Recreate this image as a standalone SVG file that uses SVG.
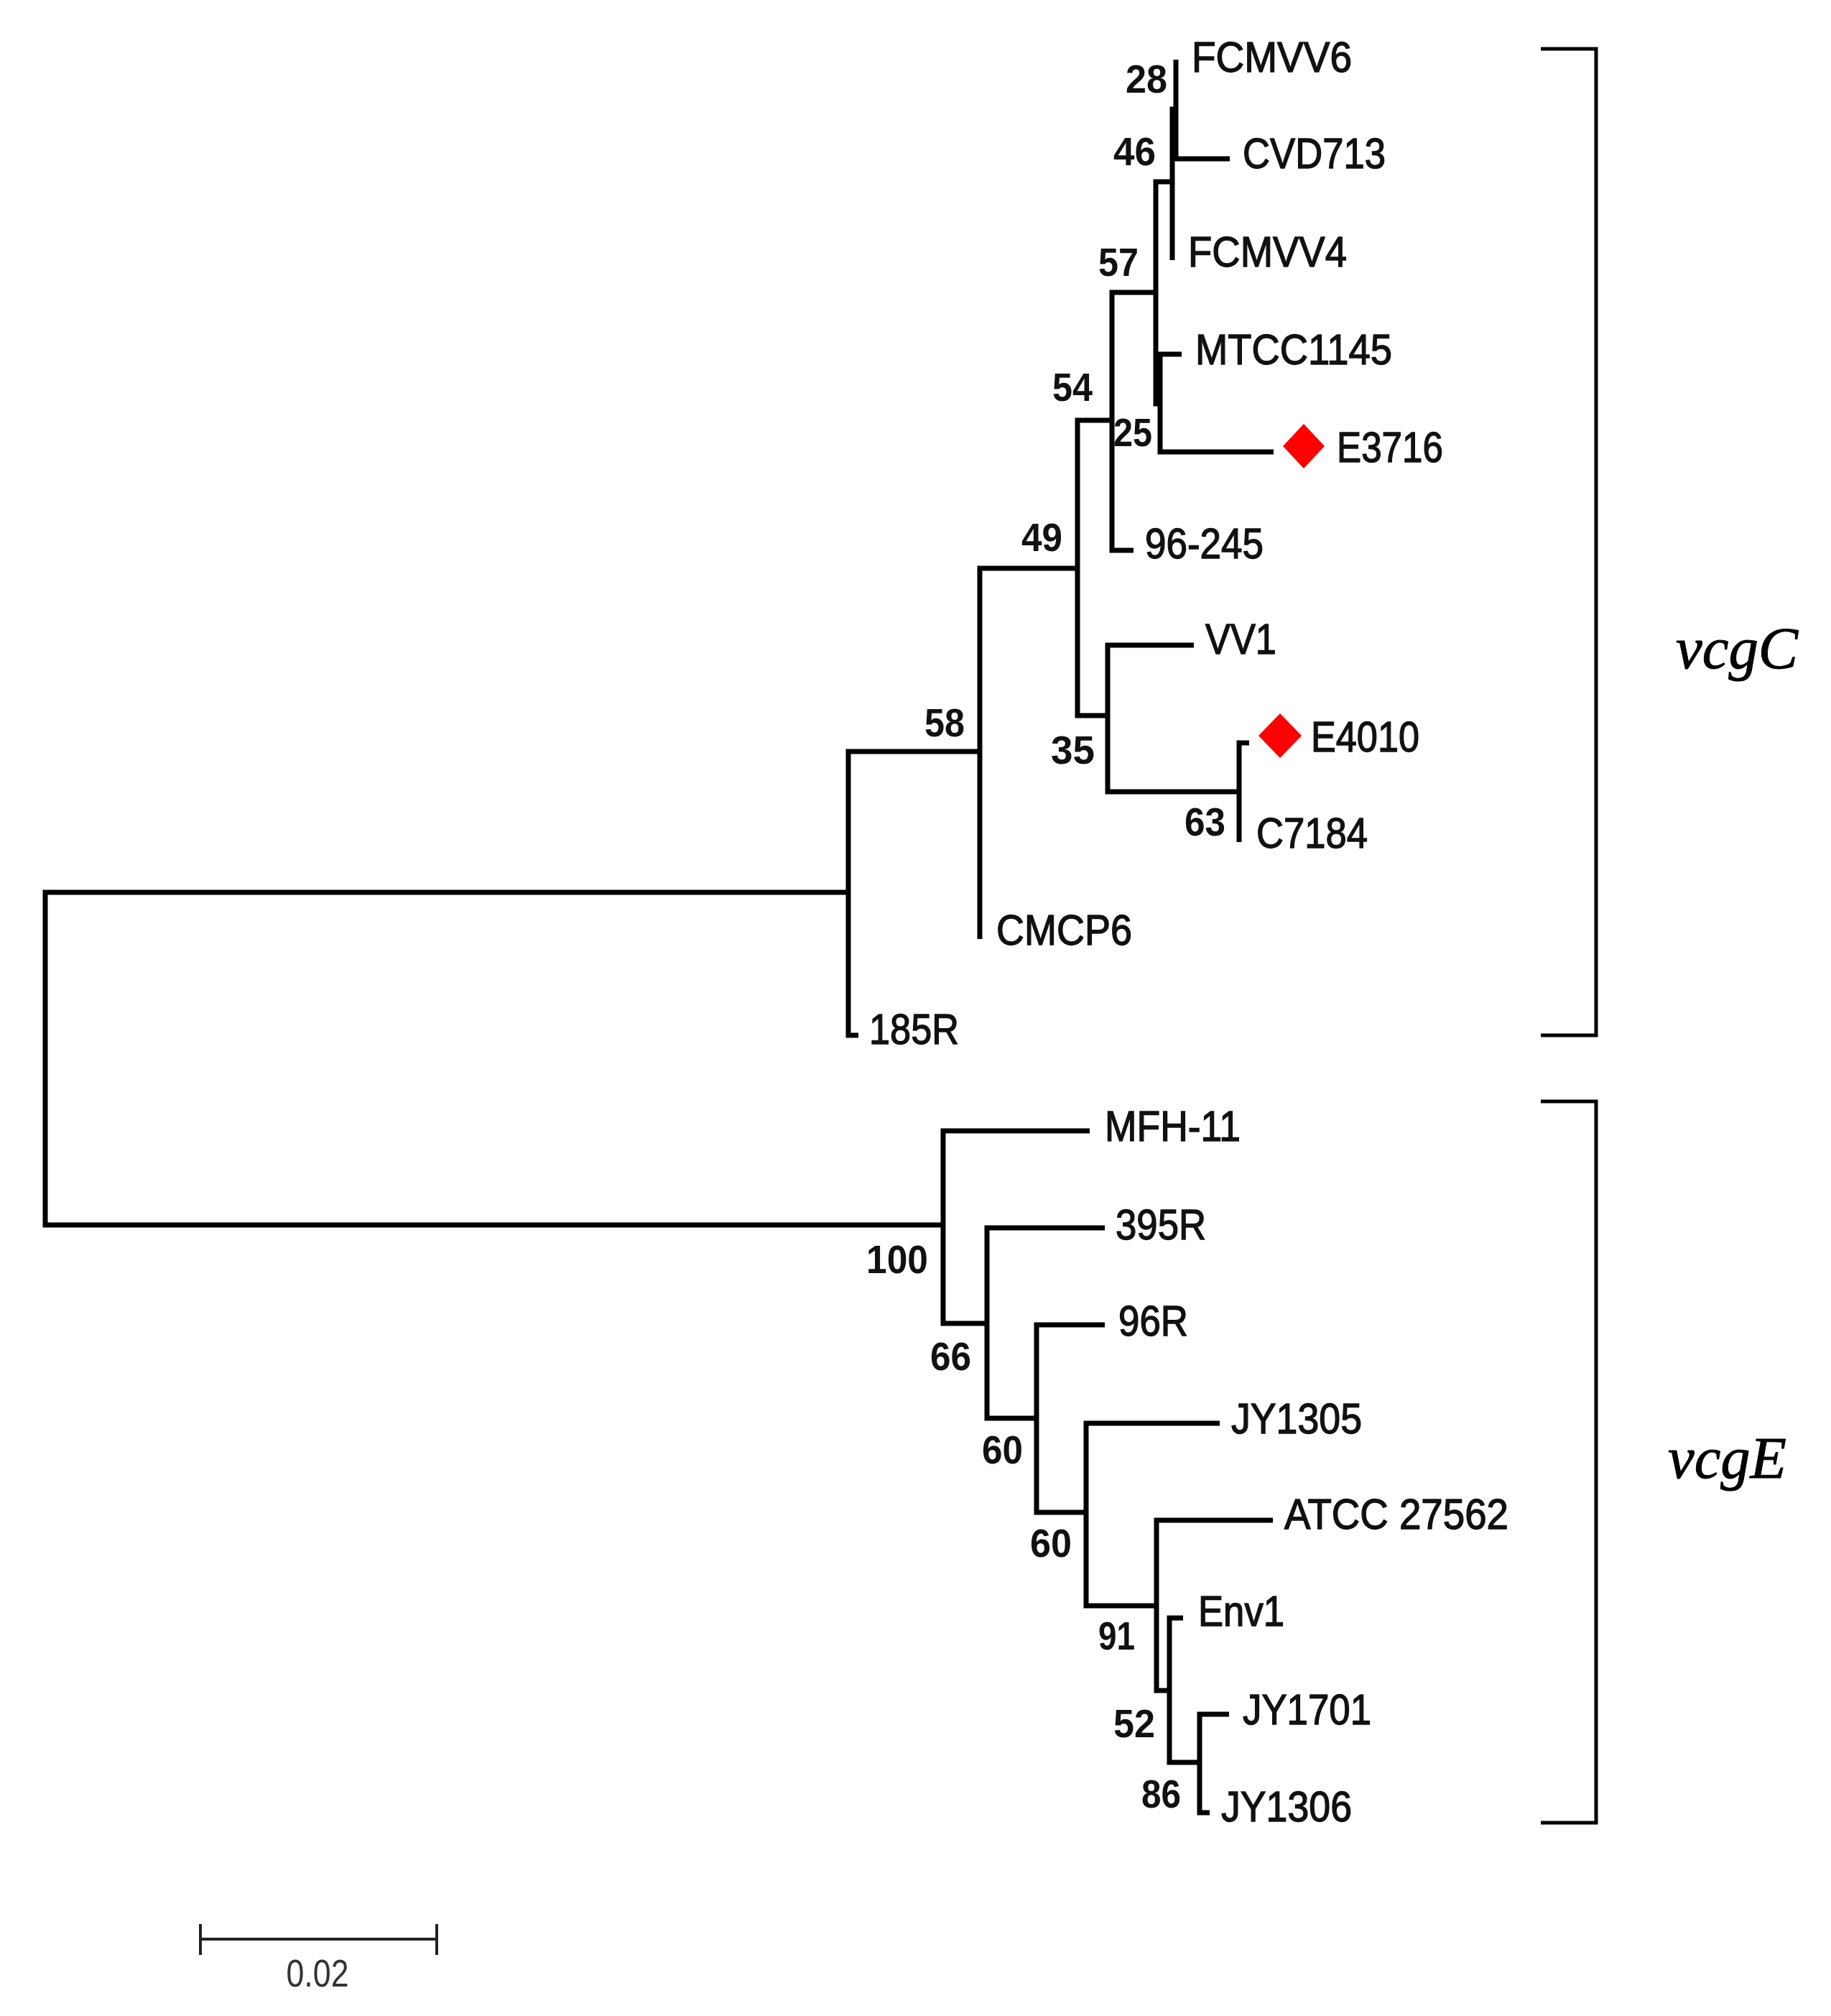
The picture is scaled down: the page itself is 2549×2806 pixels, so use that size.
<svg xmlns="http://www.w3.org/2000/svg" width="2549" height="2806" viewBox="0 0 2549 2806">
<style>
.br{fill:none;stroke:#000;stroke-width:7;stroke-linejoin:miter;stroke-linecap:butt}
.bk{fill:none;stroke:#000;stroke-width:5}
.sb{fill:none;stroke:#222;stroke-width:4}
.tx{font-family:"Liberation Sans",Arial,sans-serif;font-size:60px;fill:#111;stroke:#111;stroke-width:1.4}
.bs{font-family:"Liberation Sans",Arial,sans-serif;font-size:56px;font-weight:bold;fill:#111}
.cl{font-family:"Liberation Serif","Times New Roman",serif;font-size:82px;font-style:italic;fill:#000;stroke:#000;stroke-width:1}
.dm{fill:#ff0000}
</style>
<rect x="0" y="0" width="2549" height="2806" fill="#fff"/>
<g id="connectors">
<path class="br" d="M1181 1242 H63 V1705 H1313"/>
<path class="br" d="M1364 1046 H1181 V1441 H1195"/>
<path class="br" d="M1500 791 H1364 V1307"/>
<path class="br" d="M1548 585 H1500 V996 H1542"/>
<path class="br" d="M1609 407 H1548 V766 H1578"/>
<path class="br" d="M1632 253 H1609 V562 H1615"/>
<path class="br" d="M1637 152 H1632 V362"/>
<path class="br" d="M1637 83 V221 H1712"/>
<path class="br" d="M1645 493 H1615 V629 H1773"/>
<path class="br" d="M1662 898 H1542 V1102 H1725"/>
<path class="br" d="M1739 1034 H1725 V1172"/>
<path class="br" d="M1517 1574 H1313 V1842 H1374"/>
<path class="br" d="M1538 1709 H1374 V1974 H1443"/>
<path class="br" d="M1538 1844 H1443 V2105 H1512"/>
<path class="br" d="M1698 1981 H1512 V2235 H1610"/>
<path class="br" d="M1772 2116 H1610 V2353 H1628"/>
<path class="br" d="M1647 2252 H1628 V2453 H1670"/>
<path class="br" d="M1711 2386 H1670 V2523 H1684"/>
</g>
<g id="taxa">
<g id="n-FCMVV6"><text class="tx" x="1659" y="100" textLength="223" lengthAdjust="spacingAndGlyphs">FCMVV6</text></g>
<g id="n-CVD713"><text class="tx" x="1730" y="234" textLength="199" lengthAdjust="spacingAndGlyphs">CVD713</text></g>
<g id="n-FCMVV4"><text class="tx" x="1654" y="371" textLength="221" lengthAdjust="spacingAndGlyphs">FCMVV4</text></g>
<g id="n-MTCC1145"><text class="tx" x="1664" y="507" textLength="274" lengthAdjust="spacingAndGlyphs">MTCC1145</text></g>
<g id="n-E3716"><path class="dm" d="M1815 590 L1844 621 L1815 652 L1786 621 Z"/><text class="tx" x="1861" y="643" textLength="148" lengthAdjust="spacingAndGlyphs">E3716</text></g>
<g id="n-96-245"><text class="tx" x="1594" y="777" textLength="165" lengthAdjust="spacingAndGlyphs">96-245</text></g>
<g id="n-VV1"><text class="tx" x="1678" y="910" textLength="99" lengthAdjust="spacingAndGlyphs">VV1</text></g>
<g id="n-E4010"><path class="dm" d="M1782 993 L1812 1024 L1782 1055 L1752 1024 Z"/><text class="tx" x="1825" y="1046" textLength="151" lengthAdjust="spacingAndGlyphs">E4010</text></g>
<g id="n-C7184"><text class="tx" x="1749" y="1180" textLength="155" lengthAdjust="spacingAndGlyphs">C7184</text></g>
<g id="n-CMCP6"><text class="tx" x="1387" y="1315" textLength="189" lengthAdjust="spacingAndGlyphs">CMCP6</text></g>
<g id="n-185R"><text class="tx" x="1210" y="1453" textLength="125" lengthAdjust="spacingAndGlyphs">185R</text></g>
<g id="n-MFH-11"><text class="tx" x="1538" y="1588" textLength="189" lengthAdjust="spacingAndGlyphs">MFH-11</text></g>
<g id="n-395R"><text class="tx" x="1553" y="1725" textLength="126" lengthAdjust="spacingAndGlyphs">395R</text></g>
<g id="n-96R"><text class="tx" x="1557" y="1859" textLength="97" lengthAdjust="spacingAndGlyphs">96R</text></g>
<g id="n-JY1305"><text class="tx" x="1714" y="1995" textLength="182" lengthAdjust="spacingAndGlyphs">JY1305</text></g>
<g id="n-ATCC27562"><text class="tx" x="1788" y="2128" textLength="312" lengthAdjust="spacingAndGlyphs">ATCC 27562</text></g>
<g id="n-Env1"><text class="tx" x="1668" y="2263" textLength="120" lengthAdjust="spacingAndGlyphs">Env1</text></g>
<g id="n-JY1701"><text class="tx" x="1730" y="2400" textLength="179" lengthAdjust="spacingAndGlyphs">JY1701</text></g>
<g id="n-JY1306"><text class="tx" x="1700" y="2535" textLength="182" lengthAdjust="spacingAndGlyphs">JY1306</text></g>
</g>
<g id="bootstrap">
<text class="bs" x="1567" y="129" textLength="58" lengthAdjust="spacingAndGlyphs">28</text>
<text class="bs" x="1550" y="230" textLength="59" lengthAdjust="spacingAndGlyphs">46</text>
<text class="bs" x="1529" y="384" textLength="56" lengthAdjust="spacingAndGlyphs">57</text>
<text class="bs" x="1465" y="558" textLength="56" lengthAdjust="spacingAndGlyphs">54</text>
<text class="bs" x="1550" y="621" textLength="54" lengthAdjust="spacingAndGlyphs">25</text>
<text class="bs" x="1422" y="767" textLength="57" lengthAdjust="spacingAndGlyphs">49</text>
<text class="bs" x="1287" y="1025" textLength="56" lengthAdjust="spacingAndGlyphs">58</text>
<text class="bs" x="1463" y="1063" textLength="61" lengthAdjust="spacingAndGlyphs">35</text>
<text class="bs" x="1649" y="1163" textLength="57" lengthAdjust="spacingAndGlyphs">63</text>
<text class="bs" x="1206" y="1772" textLength="86" lengthAdjust="spacingAndGlyphs">100</text>
<text class="bs" x="1295" y="1907" textLength="57" lengthAdjust="spacingAndGlyphs">66</text>
<text class="bs" x="1367" y="2037" textLength="57" lengthAdjust="spacingAndGlyphs">60</text>
<text class="bs" x="1434" y="2167" textLength="58" lengthAdjust="spacingAndGlyphs">60</text>
<text class="bs" x="1529" y="2296" textLength="51" lengthAdjust="spacingAndGlyphs">91</text>
<text class="bs" x="1550" y="2418" textLength="58" lengthAdjust="spacingAndGlyphs">52</text>
<text class="bs" x="1589" y="2516" textLength="55" lengthAdjust="spacingAndGlyphs">86</text>
</g>
<g id="clade-vcgC">
<path class="bk" d="M2145 68 H2222 V1441 H2145"/>
<text class="cl" x="2333" y="930" textLength="170" lengthAdjust="spacingAndGlyphs">vcgC</text>
</g>
<g id="clade-vcgE">
<path class="bk" d="M2145 1533 H2222 V2537 H2145"/>
<text class="cl" x="2322" y="2057" textLength="165" lengthAdjust="spacingAndGlyphs">vcgE</text>
</g>
<g id="scale-bar">
<path class="sb" d="M279 2699 H608 M279 2678 V2721 M608 2678 V2721"/>
<text x="442" y="2765" text-anchor="middle" font-family="Liberation Sans, Arial, sans-serif" font-size="54" fill="#333" textLength="87" lengthAdjust="spacingAndGlyphs">0.02</text>
</g>
</svg>
